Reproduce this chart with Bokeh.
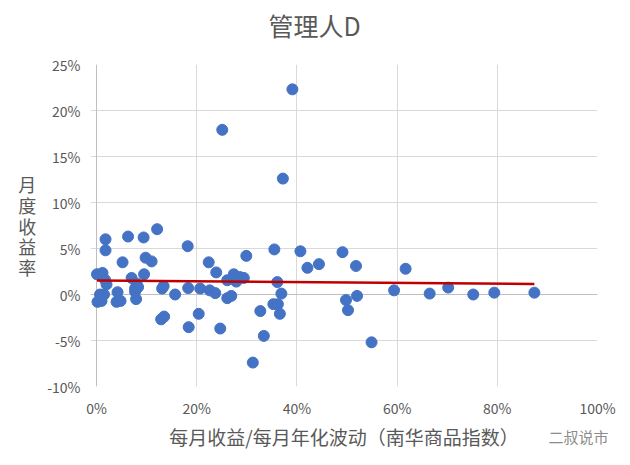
import numpy as np
from bokeh.plotting import figure
from bokeh.models import Range1d, Span, FixedTicker, NumeralTickFormatter, Title
from bokeh.embed import file_html
from bokeh.resources import INLINE

# ---- data (percent) ----
x_pct = [0.1, 1.2, 1.8, 1.8, 1.7, 2.0, 0.7, 1.5, 0.2, 1.0,
         4.2, 4.0, 4.8, 5.2, 6.3, 9.4, 12.1, 9.8, 11.0, 7.0,
         9.5, 8.0, 7.7, 8.3, 7.7, 7.9, 13.1, 13.4, 12.9, 13.5,
         18.2, 22.4, 23.9, 26.1, 27.4, 28.6, 29.4, 27.9, 15.7, 18.3,
         20.7, 22.6, 23.7, 26.1, 26.9, 20.4, 18.4, 24.7, 25.1, 39.1,
         37.2, 29.9, 35.5, 40.7, 42.1, 36.1, 36.9, 35.3, 36.2, 36.6,
         32.7, 33.4, 31.2, 44.4, 49.1, 51.8, 49.8, 52.0, 50.2, 54.9,
         61.7, 59.4, 66.5, 70.2, 75.2, 79.4, 87.4]
y_pct = [2.2, 2.35, 6.0, 4.8, 1.6, 1.1, 0.0, 0.0, -0.8, -0.7,
         0.25, -0.8, -0.7, 3.5, 6.3, 6.2, 7.1, 4.0, 3.6, 1.8,
         2.2, 1.2, 0.65, 0.8, 0.3, -0.5, 0.65, 0.9, -2.7, -2.4,
         5.25, 3.5, 2.4, 1.55, 2.2, 1.9, 1.8, 1.4, 0.0, 0.7,
         0.65, 0.45, 0.15, -0.4, -0.15, -2.1, -3.55, -3.7, 17.9, 22.3,
         12.6, 4.2, 4.9, 4.7, 2.9, 1.35, 0.1, -1.05, -1.05, -2.1,
         -1.8, -4.5, -7.4, 3.3, 4.6, 3.1, -0.6, -0.15, -1.7, -5.2,
         2.8, 0.45, 0.1, 0.75, 0.0, 0.2, 0.2]
# linear trend line (start / end)
trend_x_pct = [0.1, 87.4]
trend_y_pct = [1.52, 1.15]

x_ticks = [0, 0.2, 0.4, 0.6, 0.8, 1.0]
y_ticks = [-0.10, -0.05, 0.0, 0.05, 0.10, 0.15, 0.20, 0.25]

title_text = "管理人D"
x_label = "每月收益/每月年化波动（南华商品指数）"
y_label = "月\n度\n收\n益\n率"
watermark = "二叔说市"

x = np.array(x_pct) / 100.0
y = np.array(y_pct) / 100.0
tx = np.array(trend_x_pct) / 100.0
ty = np.array(trend_y_pct) / 100.0

FONT = "Noto Sans CJK SC"
GRAY = "#595959"

p = figure(width=630, height=465, frame_width=507, frame_height=322,
           min_border_left=90, min_border_right=33, min_border_top=64, min_border_bottom=79,
           x_range=Range1d(-6 / 501, 1.0), y_range=Range1d(-0.10, 0.25),
           output_backend="svg", toolbar_location=None, background_fill_color="white",
           border_fill_color="white")
p.outline_line_color = None

p.title.text = title_text
p.title.align = "left"
p.title.offset = 178
p.title.vertical_align = "top"
p.title.standoff = -116
p.title.text_font = FONT
p.title.text_font_size = "25px"
p.title.text_font_style = "normal"
p.title.text_color = GRAY

for ax in (p.xaxis[0], p.yaxis[0]):
    ax.axis_line_color = None
    ax.major_tick_line_color = None
    ax.major_tick_out = 0
    ax.major_tick_in = 0
    ax.minor_tick_line_color = None
    ax.minor_tick_out = 0
    ax.major_label_text_font = FONT
    ax.major_label_text_font_size = "14px"
    ax.major_label_text_color = GRAY
    ax.axis_label_text_font = FONT
    ax.axis_label_text_font_style = "normal"
    ax.axis_label_text_color = GRAY
    ax.formatter = NumeralTickFormatter(format="0%")

p.xaxis.ticker = FixedTicker(ticks=x_ticks)
p.yaxis.ticker = FixedTicker(ticks=y_ticks)
p.xaxis.major_label_standoff = 11
p.yaxis.major_label_standoff = 10
p.xaxis.axis_label = x_label
p.xaxis.axis_label_text_font_size = "19px"
p.xaxis.axis_label_standoff = 2
p.yaxis.axis_label = y_label
p.yaxis.axis_label_orientation = "horizontal"
p.yaxis.axis_label_text_font_size = "18px"
p.yaxis.axis_label_text_line_height = 0.8
p.yaxis.axis_label_standoff = 8

p.xgrid.grid_line_color = "#d9d9d9"
p.ygrid.grid_line_color = "#d9d9d9"
p.ygrid.bounds = (0, 1)

p.add_layout(Span(location=0, dimension="height", line_color="#bfbfbf", line_width=1, level="underlay"))
p.add_layout(Span(location=0, dimension="width", line_color="#bfbfbf", line_width=1, level="underlay"))

p.scatter(x, y, size=11, fill_color="#4472C4", line_color="#4472C4")
p.line(tx, ty, line_color="#C00000", line_width=2.5)

wm = Title(text=watermark, align="left", offset=458, vertical_align="top", standoff=-54,
           text_font=FONT, text_font_size="15px", text_font_style="normal", text_color="#8c8c8c")
p.add_layout(wm, "below")

open("out.html", "w").write(file_html(p, INLINE))
